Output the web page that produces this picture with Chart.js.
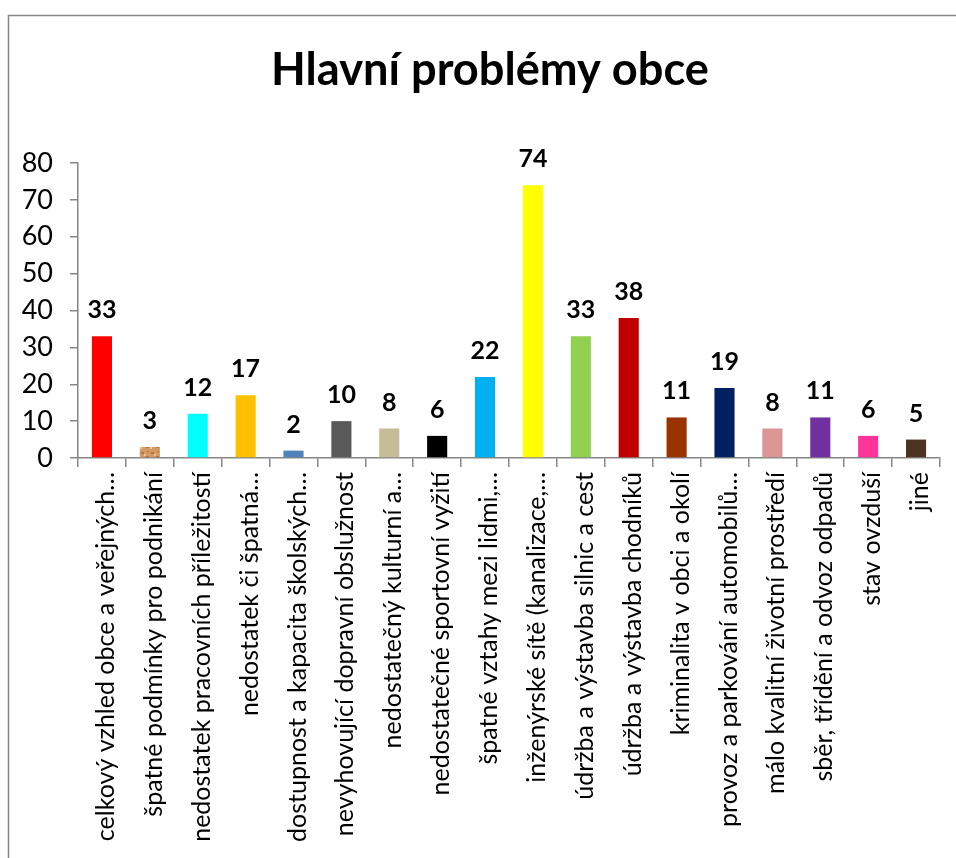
<!DOCTYPE html>
<html>
<head>
<meta charset="utf-8">
<script src="https://cdn.jsdelivr.net/npm/chart.js@4.4.1/dist/chart.umd.min.js"></script>
<style>
  html, body { margin: 0; padding: 0; background: #fff; }
  #wrap { width: 956px; height: 858px; }
</style>
</head>
<body>
<div id="wrap"><canvas id="problemChart" width="956" height="858"></canvas></div>
<script>
// Hlavní problémy obce - počet odpovědí
const categories = [
  'celkový vzhled obce a veřejných…',
  'špatné podmínky pro podnikání',
  'nedostatek pracovních příležitostí',
  'nedostatek či špatná…',
  'dostupnost a kapacita školských…',
  'nevyhovující dopravní obslužnost',
  'nedostatečný kulturní a…',
  'nedostatečné sportovní vyžití',
  'špatné vztahy mezi lidmi,…',
  'inženýrské sítě (kanalizace,…',
  'údržba a výstavba silnic a cest',
  'údržba a výstavba chodníků',
  'kriminalita v obci a okolí',
  'provoz a parkování automobilů…',
  'málo kvalitní životní prostředí',
  'sběr, třídění a odvoz odpadů',
  'stav ovzduší',
  'jiné'
];
const counts = [33, 3, 12, 17, 2, 10, 8, 6, 22, 74, 33, 38, 11, 19, 8, 11, 6, 5];
const yTicks = [0, 10, 20, 30, 40, 50, 60, 70, 80];
const chartTitle = 'Hlavní problémy obce';

// the 2nd bar has a grainy tan fill in the original
function tanPattern() {
  const c = document.createElement('canvas');
  c.width = 10; c.height = 10;
  const g = c.getContext('2d');
  g.fillStyle = '#d39b63';
  g.fillRect(0, 0, 10, 10);
  g.fillStyle = '#b9773f';
  g.fillRect(1, 2, 3, 2); g.fillRect(6, 6, 3, 2); g.fillRect(7, 1, 2, 1);
  g.fillStyle = '#ebc397';
  g.fillRect(4, 4, 2, 2); g.fillRect(0, 7, 2, 2);
  return g.createPattern(c, 'repeat');
}

const barColors = [
  '#ff0000', tanPattern(), '#00ffff', '#ffc000', '#4f81bd', '#595959',
  '#c4bd97', '#000000', '#00b0f0', '#ffff00', '#92d050', '#c00000',
  '#993300', '#002060', '#d99694', '#7030a0', '#ff3399', '#4b3423'
];

const FONT = 'Lato, "Noto Sans", sans-serif';
const AXIS = '#868686';
Chart.defaults.font.family = FONT;
Chart.defaults.color = '#000';

const frameAndLabels = {
  id: 'frameAndLabels',
  beforeDraw(chart) {
    const ctx = chart.ctx;
    ctx.save();
    ctx.fillStyle = '#fff';
    ctx.fillRect(0, 0, chart.width, chart.height);
    ctx.strokeStyle = AXIS;
    ctx.lineWidth = 1.5;
    ctx.strokeRect(8.5, 15.5, chart.width + 20, chart.height + 20);
    ctx.restore();
  },
  afterDatasetsDraw(chart) {
    const ctx = chart.ctx;
    ctx.save();
    // title, squeezed to the width it has in the original
    let size = 40;
    ctx.font = 'bold ' + size + 'px ' + FONT;
    size = size * 438 / ctx.measureText(chartTitle).width;
    ctx.font = 'bold ' + size + 'px ' + FONT;
    ctx.fillStyle = '#000';
    ctx.textAlign = 'center';
    ctx.textBaseline = 'alphabetic';
    ctx.fillText(chartTitle, 490, 85);

    // value labels above the bars
    ctx.font = 'bold 25px ' + FONT;
    const meta = chart.getDatasetMeta(0);
    meta.data.forEach((bar, i) => {
      ctx.fillText(String(counts[i]), bar.x, bar.y - 18);
    });
    ctx.restore();
  }
};

new Chart(document.getElementById('problemChart'), {
  type: 'bar',
  data: {
    labels: categories,
    datasets: [{
      data: counts,
      backgroundColor: barColors,
      borderWidth: 0,
      barPercentage: 0.42,
      categoryPercentage: 1
    }]
  },
  options: {
    responsive: false,
    animation: false,
    layout: { padding: { top: 163, right: 16, left: 0, bottom: 0 } },
    plugins: {
      legend: { display: false },
      title: { display: false },
      tooltip: { enabled: false }
    },
    scales: {
      x: {
        grid: { offset: true, drawOnChartArea: false, tickLength: 9, color: AXIS, lineWidth: 1.5 },
        border: { color: AXIS, width: 1.5 },
        ticks: { autoSkip: false, minRotation: 90, maxRotation: 90, padding: 5, labelOffset: 4, font: { size: 25 } },
        afterFit(scale) { scale.height = 400; }
      },
      y: {
        min: 0,
        max: 80,
        grid: { drawOnChartArea: false, tickLength: 8, color: AXIS, lineWidth: 1.5 },
        border: { color: AXIS, width: 1.5 },
        ticks: { stepSize: 10, padding: 17, font: { size: 27 } },
        afterBuildTicks(scale) { scale.ticks = yTicks.map(v => ({ value: v })); },
        afterFit(scale) { scale.width = 78; }
      }
    }
  },
  plugins: [frameAndLabels]
});
</script>
</body>
</html>
